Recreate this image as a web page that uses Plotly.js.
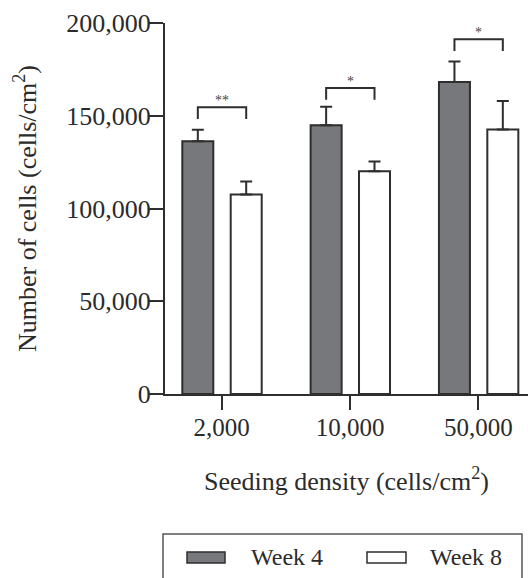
<!DOCTYPE html>
<html>
<head>
<meta charset="utf-8">
<script src="https://cdn.plot.ly/plotly-3.0.1.min.js"></script>
<style>html,body{margin:0;padding:0;background:#fff;}</style>
</head>
<body>
<div id="chart" style="width:528px;height:578px;"></div>
<script>
// ---- data ----
const categories = ["2,000", "10,000", "50,000"];
const seriesNames = ["Week 4", "Week 8"];
const week4 = [136300, 144900, 168200];
const week4Err = [6100, 9900, 11000];
const week8 = [107600, 120100, 142600];
const week8Err = [7000, 5200, 15400];
const sigLabels = ["**", "*", "*"];
const sigBracketY = [154600, 164900, 191200];
const yTickVals = [0, 50000, 100000, 150000, 200000];
const yTickText = ["0", "50,000", "100,000", "150,000", "200,000"];

// ---- style ----
const FONT = "Liberation Serif, Times New Roman, serif";
const TXT = "#2b2b2b";
const EDGE = "#2e2e2e";
const DARK = "#77787c";
const BAR_W = 0.2416;
const OFF4 = -0.307, OFF8 = 0.070;
const LEG_DROP = 6300;

const xs = categories.map((c, i) => i);

const traces = [
  {
    type: "bar", name: seriesNames[0], x: xs, y: week4,
    width: BAR_W, offset: OFF4,
    marker: {color: DARK, line: {color: EDGE, width: 2}},
    error_y: {type: "data", array: week4Err, arrayminus: week4.map(() => 0), symmetric: false,
              color: EDGE, thickness: 2, width: 6},
    showlegend: false, hoverinfo: "skip"
  },
  {
    type: "bar", name: seriesNames[1], x: xs, y: week8,
    width: BAR_W, offset: OFF8,
    marker: {color: "#ffffff", line: {color: EDGE, width: 2}},
    error_y: {type: "data", array: week8Err, arrayminus: week8.map(() => 0), symmetric: false,
              color: EDGE, thickness: 2, width: 6},
    showlegend: false, hoverinfo: "skip"
  }
];

// significance brackets (from bar centre to bar centre)
const c4 = OFF4 + BAR_W / 2, c8 = OFF8 + BAR_W / 2;
sigBracketY.forEach((yb, i) => {
  traces.push({
    type: "scatter", mode: "lines",
    x: [i + c4, i + c4, i + c8, i + c8],
    y: [yb - LEG_DROP, yb, yb, yb - LEG_DROP],
    line: {color: EDGE, width: 2},
    showlegend: false, hoverinfo: "skip", cliponaxis: false
  });
});

const annotations = sigLabels.map((s, i) => ({
  x: i + (c4 + c8) / 2, y: sigBracketY[i], xref: "x", yref: "y",
  text: s, showarrow: false, yanchor: "bottom", yshift: -3,
  font: {family: FONT, size: 14, color: "#444"}
}));

// manual legend (below plot)
// plot area: x 165..528 (363px), y 23..394 (371px)
const px = v => (v - 165) / 363;
const py = v => 1 - (v - 23) / 371;
const shapes = [
  {type: "rect", xref: "paper", yref: "paper", x0: px(163), x1: px(522), y0: py(600), y1: py(534),
   line: {color: "#555", width: 1.5}, fillcolor: "rgba(0,0,0,0)"},
  {type: "rect", xref: "paper", yref: "paper", x0: px(187), x1: px(225), y0: py(563), y1: py(552),
   line: {color: EDGE, width: 1.5}, fillcolor: DARK},
  {type: "rect", xref: "paper", yref: "paper", x0: px(367), x1: px(406), y0: py(563), y1: py(552),
   line: {color: EDGE, width: 1.5}, fillcolor: "#ffffff"}
];
annotations.push(
  {xref: "paper", yref: "paper", x: px(249), y: py(557), xanchor: "left", yanchor: "middle",
   text: seriesNames[0], showarrow: false, font: {family: FONT, size: 24, color: TXT}},
  {xref: "paper", yref: "paper", x: px(428), y: py(557), xanchor: "left", yanchor: "middle",
   text: seriesNames[1], showarrow: false, font: {family: FONT, size: 24, color: TXT}}
);

const layout = {
  width: 528, height: 578,
  margin: {l: 165, r: 0, t: 23, b: 184, pad: 0},
  paper_bgcolor: "#fff", plot_bgcolor: "#fff",
  barmode: "overlay",
  showlegend: false,
  font: {family: FONT, color: TXT, size: 24},
  xaxis: {
    range: [-0.442, 2.387], tickvals: xs, ticktext: categories,
    showline: true, linecolor: EDGE, linewidth: 2,
    ticks: "outside", ticklen: 14, tickwidth: 2, tickcolor: EDGE,
    ticklabelstandoff: -4,
    showgrid: false, zeroline: false,
    tickfont: {family: FONT, size: 25, color: TXT},
    title: {text: "Seeding density (cells/cm<sup>2</sup>)", standoff: 32,
            font: {family: FONT, size: 26, color: TXT}}
  },
  yaxis: {
    range: [0, 200000], tickvals: yTickVals, ticktext: yTickText,
    showline: true, linecolor: EDGE, linewidth: 2,
    ticks: "outside", ticklen: 15, tickwidth: 2, tickcolor: EDGE,
    ticklabelstandoff: -8,
    showgrid: false, zeroline: false,
    tickfont: {family: FONT, size: 26, color: TXT},
    title: {text: "Number of cells (cells/cm<sup>2</sup>)", standoff: 22,
            font: {family: FONT, size: 26, color: TXT}}
  },
  shapes: shapes,
  annotations: annotations
};

Plotly.newPlot("chart", traces, layout, {displayModeBar: false, staticPlot: true});
</script>
</body>
</html>
